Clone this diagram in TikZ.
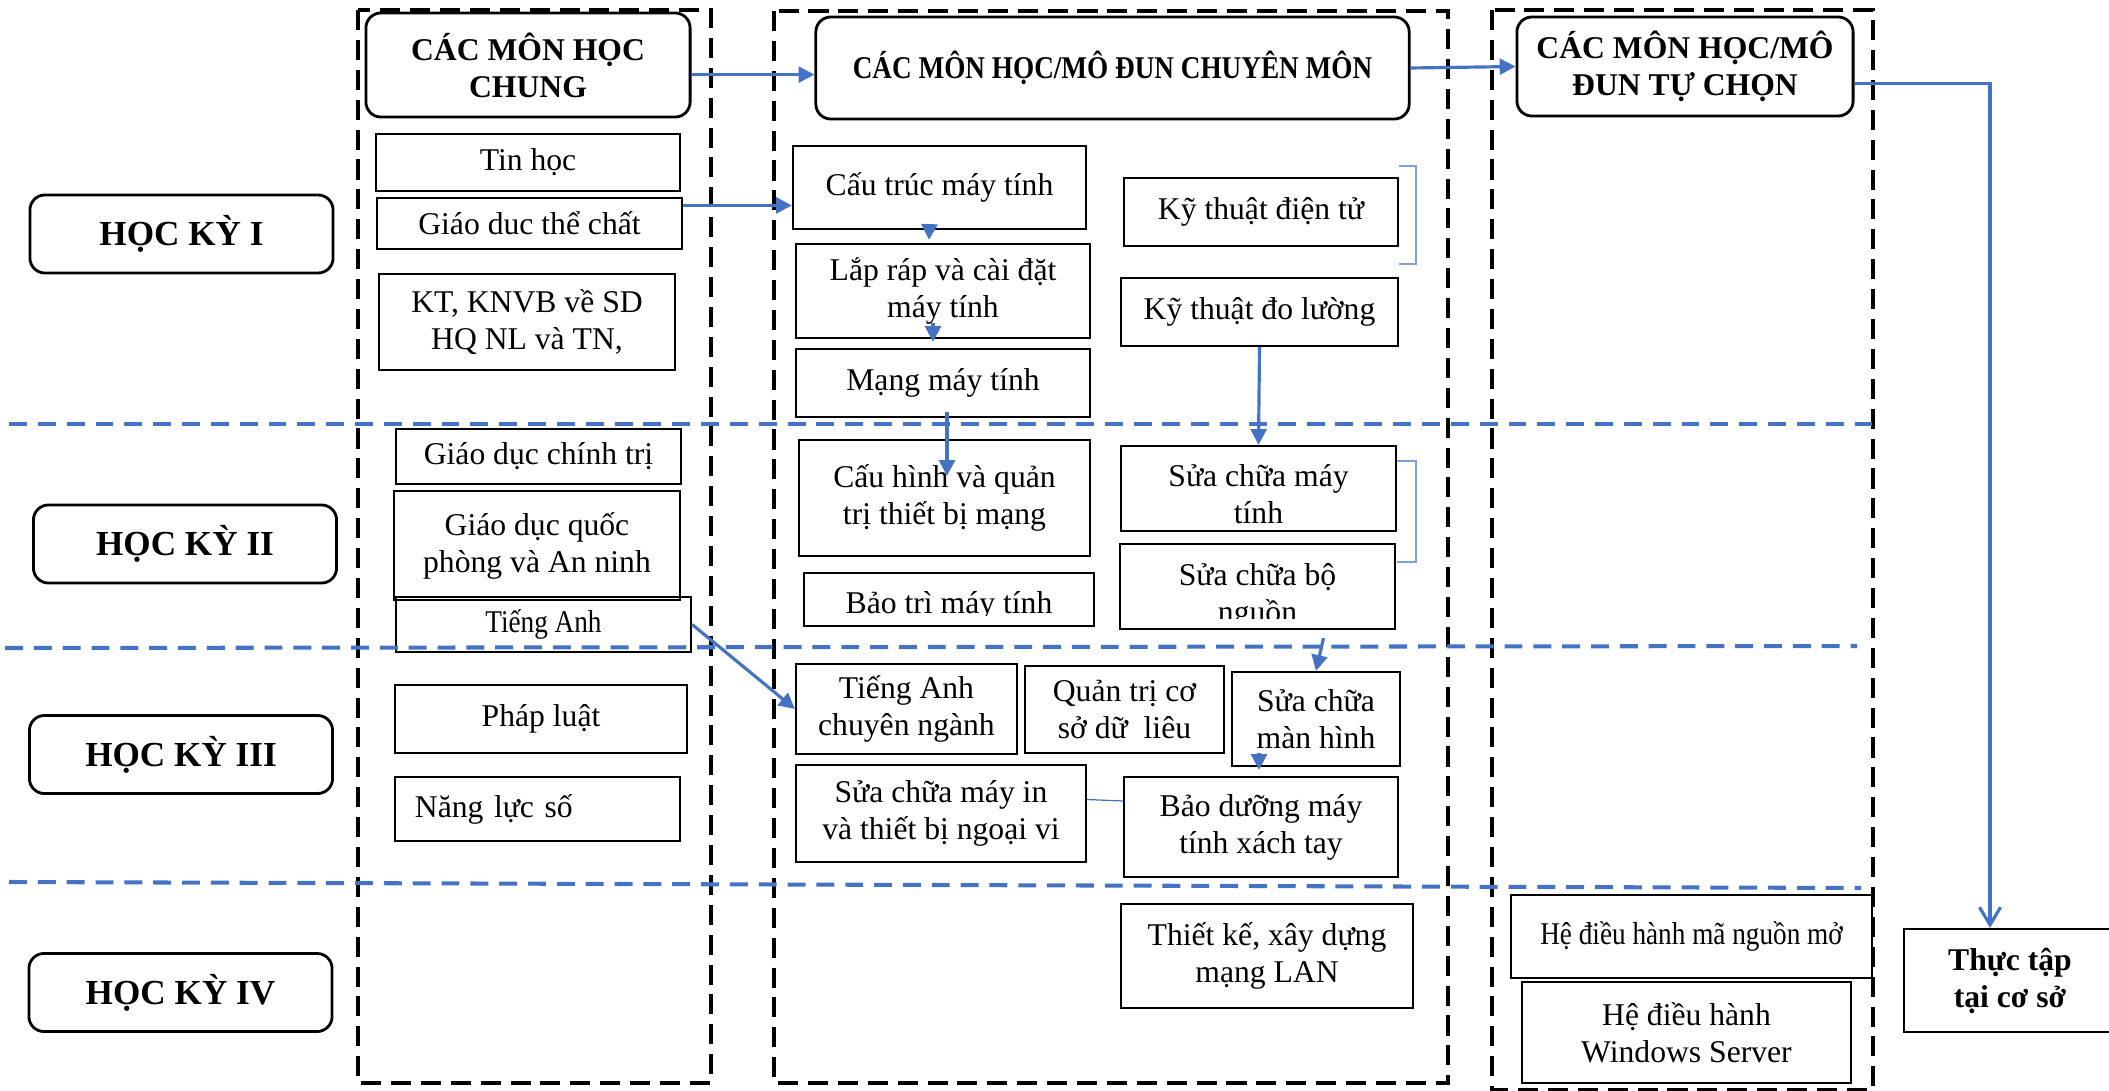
\documentclass[tikz,border=0pt]{standalone}
\usepackage{fontspec}
\setmainfont{Liberation Serif}
\usepackage{graphicx}
\usetikzlibrary{positioning,calc,arrows.meta}
\definecolor{lineblue}{HTML}{4472C4}
\definecolor{brackblue}{HTML}{7F9FDC}
\newcommand{\bodysize}{\fontsize{9}{10.5}\selectfont}
\newcommand{\hksize}{\fontsize{10}{12}\selectfont}
\newcommand{\narrow}[1]{\scalebox{0.86}[1]{#1}}
\tikzset{
	box/.style={draw, line width=0.6pt, inner sep=0pt, align=center, font=\bodysize},
	headbox/.style={box, rounded corners=0.15cm, line width=0.8pt, font=\bfseries\bodysize},
	hkbox/.style={headbox, font=\bfseries\hksize, minimum width=3.03cm, minimum height=0.78cm},
	colframe/.style={line width=1.05pt, dash pattern=on 5.7pt off 2.8pt},
	semline/.style={draw=lineblue, line width=1.15pt, dash pattern=on 5.1pt off 3.1pt},
	arr/.style={draw=lineblue, line width=0.9pt, -{Triangle[length=4.5pt,width=4.5pt]}},
	openarr/.style={draw=lineblue, line width=0.9pt, -{Straight Barb[length=5pt,width=6pt]}},
	thinline/.style={draw=lineblue, line width=0.35pt},
	brack/.style={draw=brackblue, line width=0.4pt}
}

\begin{document}
\begin{tikzpicture}[x=0.01cm, y=-0.01cm]
	\useasboundingbox (0,0) rectangle (2109,1091);
	\draw[colframe] (358,10) rectangle (711,1083);
	\draw[colframe] (774,11) rectangle (1448,1083);
	\draw[colframe] (1492,10) rectangle (1873,1090);

	\node[hkbox] (hk1) at (181.5,234) {HỌC KỲ I};
	\node[hkbox] (hk2) at (185,544) {HỌC KỲ II};
	\node[hkbox] (hk3) at (181,754.5) {HỌC KỲ III};
	\node[hkbox] (hk4) at (180.5,992.5) {HỌC KỲ IV};

	\node[headbox, minimum width=3.24cm, minimum height=1.04cm] (chung) at (528,65) {CÁC MÔN HỌC\\CHUNG};
	\node[headbox, minimum width=5.93cm, minimum height=1.02cm] (chuyen) at (1112.5,68) {\narrow{CÁC MÔN HỌC/MÔ ĐUN CHUYÊN MÔN}};
	\node[headbox, minimum width=3.36cm, minimum height=0.99cm] (tuchon) at (1685,66.5) {CÁC MÔN HỌC/MÔ\\ĐUN TỰ CHỌN};

	\node[box, minimum width=3.04cm, minimum height=0.57cm] (tinhoc) at (528,162.5) {Tin học};
	\node[box, minimum width=3.05cm, minimum height=0.51cm] (gdtc) at (529.5,223.5) {Giáo duc thể chất};
	\node[box, minimum width=2.96cm, minimum height=0.96cm] (ktknvb) at (527,322) {KT, KNVB về SD\\HQ NL và TN,};
	\node[box, minimum width=2.85cm, minimum height=0.55cm] (gdct) at (538.5,456.5) {Giáo dục chính trị};
	\node[box, minimum width=2.86cm, minimum height=1.09cm] (gdqp) at (537,545.5) {Giáo dục quốc\\phòng và An ninh};
	\node[box, minimum width=2.95cm, minimum height=0.55cm] (tienganh) at (543.5,624.5) {\narrow{Tiếng Anh}};
	\node[box, minimum width=2.92cm, minimum height=0.68cm] (phapluat) at (541,719) {Pháp luật};
	\node[box, text width=2.45cm, inner xsep=0.2cm, align=left, minimum height=0.64cm] (nangluc) at (537.5,809) {Năng lực số};

	\node[box, minimum width=2.93cm, minimum height=0.83cm] (cautruc) at (939.5,187.5) {Cấu trúc máy tính};
	\node[box, minimum width=2.94cm, minimum height=0.94cm] (laprap) at (943,291) {Lắp ráp và cài đặt\\máy tính};
	\node[box, minimum width=2.94cm, minimum height=0.68cm] (mang) at (943,383) {Mạng máy tính};
	\node[box, minimum width=2.91cm, minimum height=1.16cm] (cauhinh) at (944.5,498) {Cấu hình và quản\\trị thiết bị mạng};
	\node[box, minimum width=2.90cm, minimum height=0.53cm] (baotri) at (949,599.5) {};
	\node[box, minimum width=2.74cm, minimum height=0.68cm] (ktdt) at (1261,212) {Kỹ thuật điện tử};
	\node[box, minimum width=2.77cm, minimum height=0.68cm] (ktdl) at (1259.5,312) {Kỹ thuật đo lường};
	\node[box, minimum width=2.75cm, minimum height=0.85cm] (scmt) at (1258.5,488.5) {};
	\node[box, minimum width=2.75cm, minimum height=0.85cm] (scbn) at (1257.5,586.5) {};
	\node[box, minimum width=2.21cm, minimum height=0.90cm] (tacn) at (906.5,709) {Tiếng Anh\\chuyên ngành};
	\node[box, minimum width=1.99cm, minimum height=0.87cm] (qtcsdl) at (1124.5,709.5) {Quản trị cơ\\sở dữ\ \ liêu};
	\node[box, minimum width=1.68cm, minimum height=0.94cm] (scmh) at (1316,719) {Sửa chữa\\màn hình};
	\node[box, minimum width=2.90cm, minimum height=0.97cm] (scmi) at (941,813.5) {Sửa chữa máy in\\và thiết bị ngoại vi};
	\node[box, minimum width=2.74cm, minimum height=1.00cm] (bdmt) at (1261,827) {Bảo dưỡng máy\\tính xách tay};
	\node[box, minimum width=2.92cm, minimum height=1.04cm] (tkmang) at (1267,956) {Thiết kế, xây dựng\\mạng LAN};

	\begin{scope}
		\clip (baotri.north west) rectangle ($(baotri.south east)+(0,-12)$);
		\node[font=\bodysize, anchor=base] (baotritext) at (949,613) {Bảo trì máy tính};
	\end{scope}
	\begin{scope}
		\clip (scmt.north west) rectangle ($(scmt.south east)+(0,-9)$);
		\node[font=\bodysize, align=center, anchor=base] (scmttext) at (1258.5,523) {Sửa chữa máy\\tính};
	\end{scope}
	\begin{scope}
		\clip (scbn.north west) rectangle ($(scbn.south east)+(0,-12)$);
		\node[font=\bodysize, align=center, anchor=base] (scbntext) at (1257.5,622) {Sửa chữa bộ\\nguồn};
	\end{scope}

	\node[box, minimum width=3.61cm, minimum height=0.83cm] (hdhmnm) at (1691.5,936.5) {\narrow{Hệ điều hành mã nguồn mở}};
	\node[box, minimum width=3.29cm, minimum height=1.01cm] (hdhws) at (1686.5,1032.5) {Hệ điều hành\\Windows Server};
	\node[box, font=\bfseries\bodysize, minimum width=2.12cm, minimum height=1.03cm] (thuctap) at (2010,980.5) {Thực tập\\tại cơ sở};

	\draw[semline] (9,424) -- (1875,424);
	\draw[semline] (5,648) -- (1857,646);
	\draw[semline] (9,882) -- (1861,888);

	\draw[brack] (1399,166) -- (1416,166) -- (1416,264) -- (1399,264);
	\draw[brack] (1397,461) -- (1416,461) -- (1416,562) -- (1397,562);

	\draw[arr] ($(chung.north east)!0.59!(chung.south east)$) coordinate (c1) -- (c1 -| chuyen.west);
	\draw[arr] (chuyen.east) -- (tuchon.west);
	\draw[arr] ($(gdtc.north east)!0.16!(gdtc.south east)$) coordinate (g1) -- (g1 -| cautruc.west);
	\draw[arr] ($(cautruc.south)+(-10,-6)$) -- ($(laprap.north)+(-14,-3)$);
	\draw[arr] ($(laprap.south)+(-10,-16)$) -- ($(mang.north)+(-10,-6)$);
	\draw[arr] ($(mang.south)+(4,-6)$) -- ($(cauhinh.north)+(2.5,37)$);
	\draw[arr] (ktdl.south) -- (scmt.north);
	\draw[arr] ($(scbn.south)+(66,8)$) -- (scmh.north);
	\draw[arr] ($(scmh.south)+(-57,-14)$) -- ($(bdmt.north)+(-2,-6)$);
	\draw[arr] (tienganh.east) -- (tacn.west);
	\draw[thinline] ($(scmi.east)+(0,-14)$) -- ($(bdmt.west)+(0,-26)$);
	\draw[openarr] ($(tuchon.north east)!0.67!(tuchon.south east)$) -| ($(thuctap.north)+(-20,0)$);
\end{tikzpicture}
\end{document}
